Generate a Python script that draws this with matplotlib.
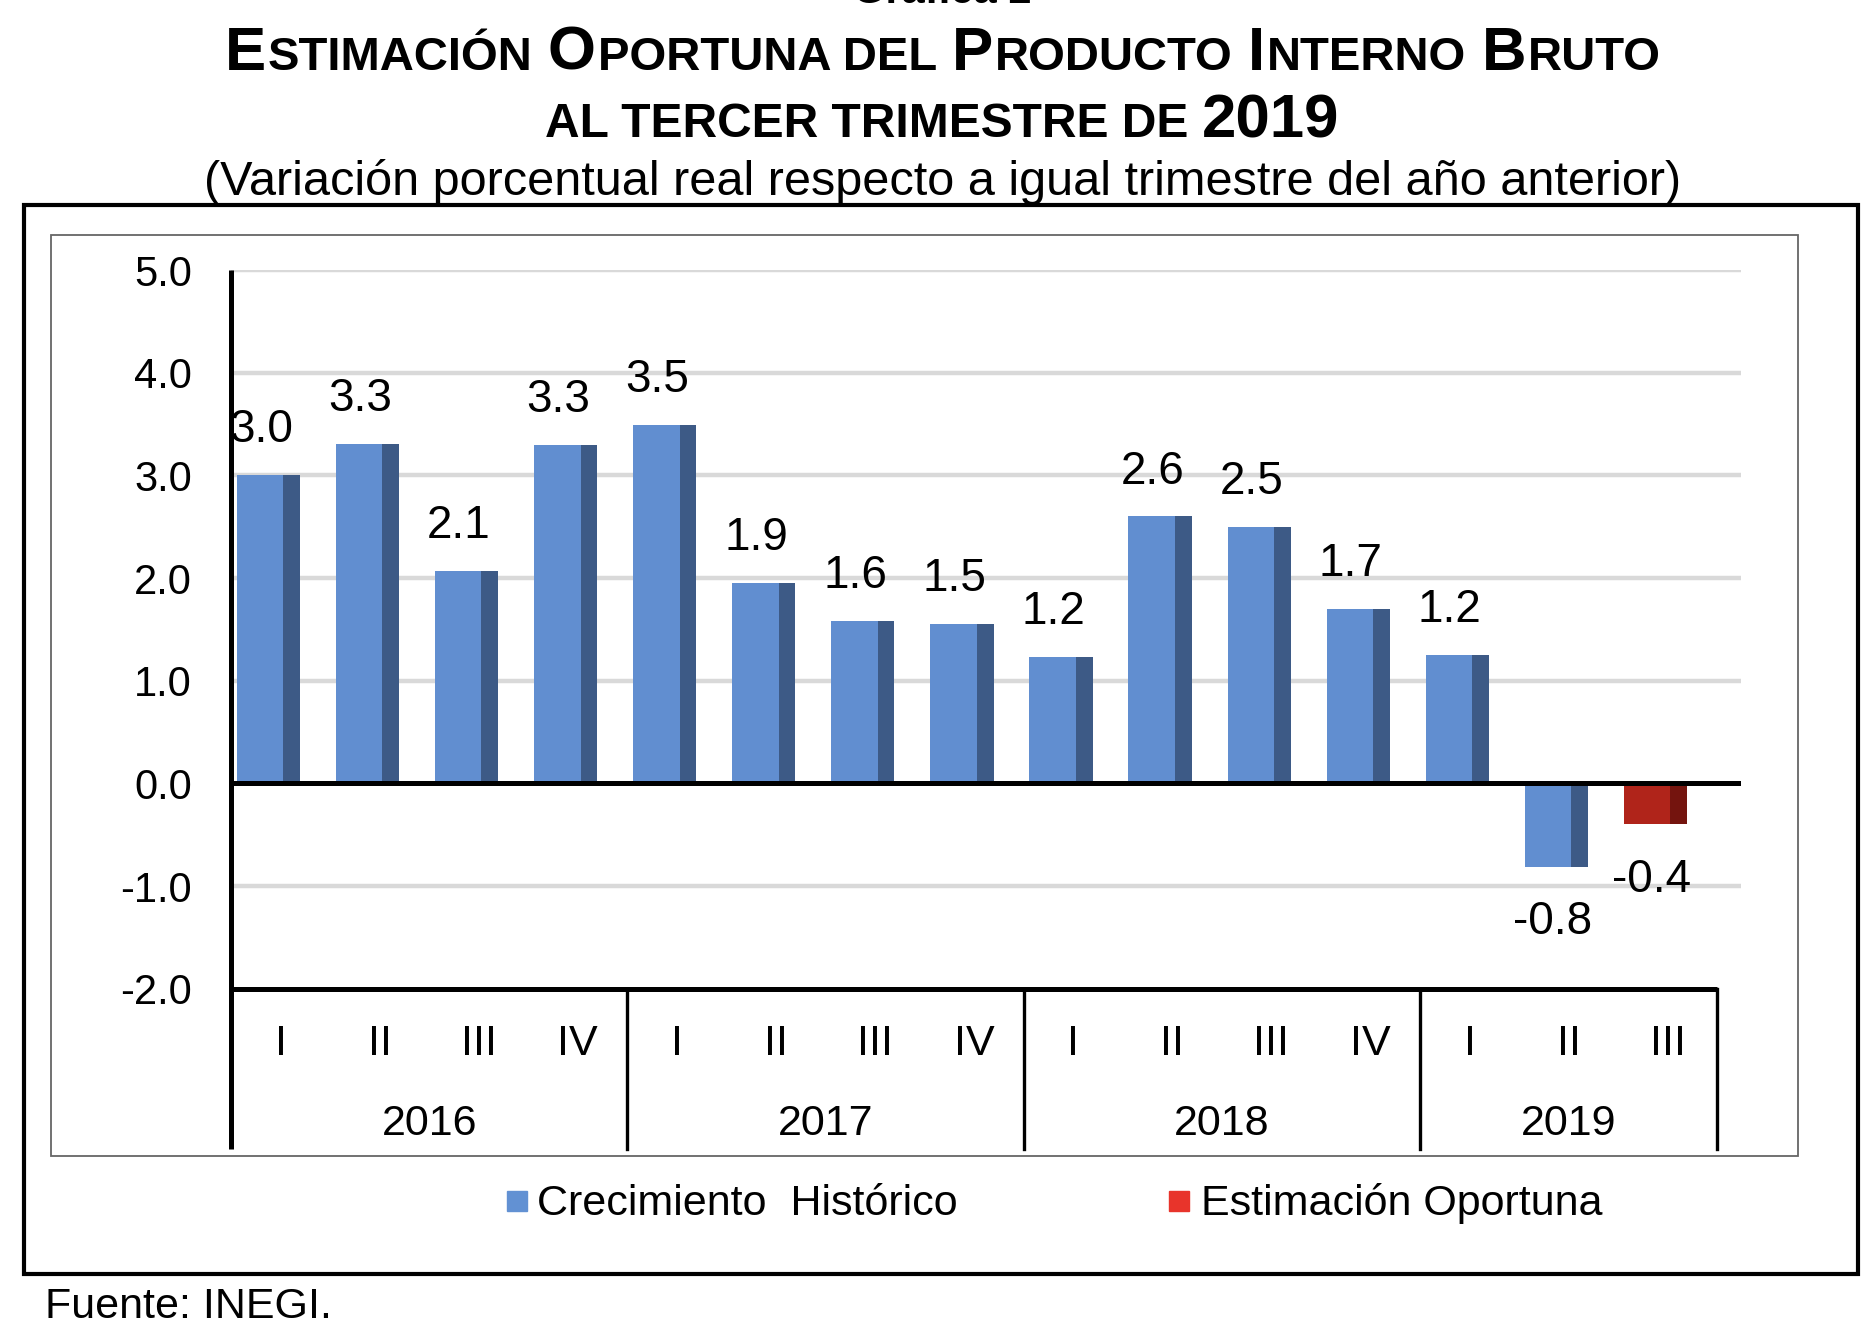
import matplotlib
matplotlib.use('Agg')
import matplotlib.pyplot as plt
import numpy as np
from matplotlib.patches import Rectangle

plt.rcParams['font.family'] = ['Liberation Sans', 'DejaVu Sans']

W, H = 1870, 1330

# data
quarters = ['I', 'II', 'III', 'IV', 'I', 'II', 'III', 'IV', 'I', 'II', 'III', 'IV', 'I', 'II', 'III']
years = ['2016', '2017', '2018', '2019']
year_counts = [4, 4, 4, 3]
heights = [3.00, 3.31, 2.07, 3.30, 3.49, 1.95, 1.58, 1.55, 1.23, 2.60, 2.50, 1.70, 1.25, -0.81, -0.40]
labels = ['3.0', '3.3', '2.1', '3.3', '3.5', '1.9', '1.6', '1.5', '1.2', '2.6', '2.5', '1.7', '1.2', '-0.8', '-0.4']
is_estimate = [False] * 14 + [True]
yticks = [5.0, 4.0, 3.0, 2.0, 1.0, 0.0, -1.0, -2.0]

blue, blue_dark = '#618ed0', '#3d5a86'
red, red_dark = '#b0241a', '#74140e'
legend_blue, legend_red = '#6291d3', '#e8342b'


def fx(px):
    return px / W


def fy(py):
    return 1 - py / H


fig = plt.figure(figsize=(W / 100, H / 100), dpi=100)
fig.patch.set_facecolor('white')

# frames
fig.patches.append(Rectangle((fx(24), fy(1274)), fx(1858) - fx(24), fy(205) - fy(1274),
                             transform=fig.transFigure, fill=False, ec='black', lw=3))
fig.patches.append(Rectangle((fx(51), fy(1156)), fx(1798) - fx(51), fy(235) - fy(1156),
                             transform=fig.transFigure, fill=False, ec='#666666', lw=1.3))

ax = fig.add_axes([fx(231), fy(988.7), (1741 - 231) / W, (988.7 - 270) / H])
ax.set_xlim(-0.5, 14.74)
ax.set_ylim(-2, 5)
for s in ax.spines.values():
    s.set_visible(False)
ax.set_xticks([])
ax.set_yticks(yticks)
ax.set_yticklabels([f'{v:.1f}' for v in yticks], fontsize=30)
ax.tick_params(axis='y', length=0, pad=28)

# grid
for v in yticks:
    if v in (0.0, -2.0):
        continue
    ax.axhline(v, color='#d9d9d9', lw=3.2, zorder=1)

x = np.arange(len(heights))
light = [red if e else blue for e in is_estimate]
dark = [red_dark if e else blue_dark for e in is_estimate]
ax.bar(x - 0.442, heights, width=0.47, align='edge', color=light, zorder=2)
ax.bar(x + 0.028, heights, width=0.168, align='edge', color=dark, zorder=2)

ax.axhline(0, color='black', lw=3.6, zorder=3)
ax.plot([-0.5, 14.5], [-2, -2], color='black', lw=3.6, zorder=3, clip_on=False, solid_capstyle='butt')
ax.plot([-0.5, -0.5], [5.0, -3.56], color='black', lw=3.6, zorder=3, clip_on=False, solid_capstyle='butt')

# data labels
for i, (h, lab) in enumerate(zip(heights, labels)):
    if h >= 0:
        ax.text(i - 0.2, h + 0.32, lab, ha='center', va='baseline', fontsize=33, zorder=4)
    else:
        ax.text(i - 0.16, h - 0.66, lab, ha='center', va='baseline', fontsize=33, zorder=4)

# category axis: quarters, years, separators
for i, q in enumerate(quarters):
    ax.text(i, -2.646, q, ha='center', va='baseline', fontsize=31, clip_on=False)
start = 0
for yr, n in zip(years, year_counts):
    ax.text(start + (n - 1) / 2, -3.426, yr, ha='center', va='baseline', fontsize=31, clip_on=False)
    end = start + n - 0.5
    ax.plot([end, end], [-2, -3.56], color='black', lw=2.4, clip_on=False)
    start += n

# titles
fig.canvas.draw()
renderer = fig.canvas.get_renderer()


def caps_line(pieces, cx, base_y):
    items = []
    for s, size, gap in pieces:
        t = fig.text(0, fy(base_y), s, fontsize=size, fontweight='bold', va='baseline', ha='left')
        items.append((t, t.get_window_extent(renderer).width, gap))
    total = sum(w + g for _, w, g in items) - items[-1][2]
    xpos = cx - total / 2
    for t, w, g in items:
        t.set_x(fx(xpos))
        xpos += w + g


big, small = 44.5, 34
sp, tg = 15, 2
caps_line([('E', big, tg), ('STIMACIÓN', small, sp), ('O', big, tg), ('PORTUNA DEL', small, sp),
           ('P', big, tg), ('RODUCTO', small, sp), ('I', big, tg), ('NTERNO', small, sp),
           ('B', big, tg), ('RUTO', small, 0)], 943, 70)
caps_line([('AL TERCER TRIMESTRE DE', 34.5, 14), ('2019', 44.5, 0)], 942, 137)
fig.text(fx(943), fy(195), '(Variación porcentual real respecto a igual trimestre del año anterior)',
         ha='center', va='baseline', fontsize=35)
fig.text(fx(942), fy(3), 'Gráfica 2', ha='center', va='baseline', fontsize=30, fontweight='bold')

# legend
fig.patches.append(Rectangle((fx(507), fy(1211)), 20 / W, 20 / H, transform=fig.transFigure,
                             color=legend_blue))
fig.text(fx(537), fy(1215), 'Crecimiento  Histórico', ha='left', va='baseline', fontsize=31)
fig.patches.append(Rectangle((fx(1169), fy(1211)), 20 / W, 20 / H, transform=fig.transFigure,
                             color=legend_red))
fig.text(fx(1201), fy(1215), 'Estimación Oportuna', ha='left', va='baseline', fontsize=31)

fig.text(fx(45), fy(1318), 'Fuente: INEGI.', ha='left', va='baseline', fontsize=31)

fig.savefig('out.png', dpi=100)
